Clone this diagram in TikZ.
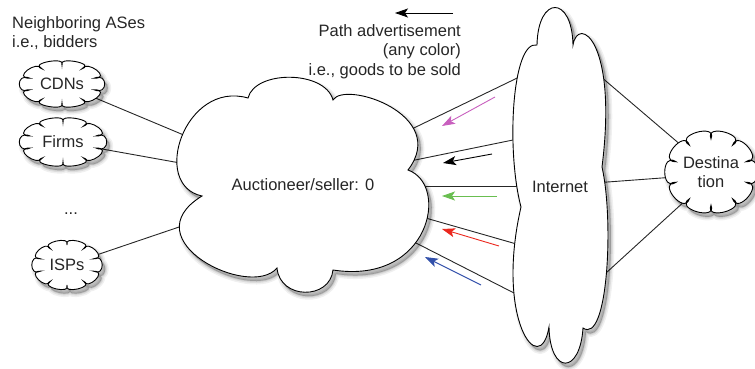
\documentclass[tikz,border=0pt]{standalone}
\usepackage{fontspec}
\setmainfont{Liberation Sans}
\usetikzlibrary{arrows.meta}
\definecolor{advpink}{RGB}{200,95,190}
\definecolor{advgreen}{RGB}{105,190,80}
\definecolor{advred}{RGB}{235,40,30}
\definecolor{advblue}{RGB}{50,80,170}
\newcommand{\aucshape}[1]{\path[#1] (202,196)
  .. controls (150,185) and (185,80) .. (248,98)
  .. controls (255,70) and (325,70) .. (333,100)
  .. controls (345,80) and (450,115) .. (408,170)
  .. controls (450,185) and (430,285) .. (333,270)
  .. controls (330,300) and (280,300) .. (277,268)
  .. controls (250,300) and (130,240) .. (202,196) -- cycle;}
\newcommand{\inetshape}[1]{\path[#1] (521,207)
  .. controls (506,150) and (512,40) .. (537,45)
  .. controls (538,-5) and (572,-5) .. (573,45)
  .. controls (578,15) and (618,40) .. (602,167)
  .. controls (614,220) and (608,345) .. (583,328)
  .. controls (580,375) and (550,375) .. (549,327)
  .. controls (540,380) and (495,320) .. (521,207) -- cycle;}
\newcommand{\puffshape}[1]{\path[#1] (-18:0.8)
  \foreach \a in {-18,18,...,306} { .. controls (\a-7:1.2) and (\a+43:1.2) .. (\a+36:0.8) } -- cycle;}
\newcommand{\shadowed}[1]{%
  #1{fill=black, draw=black, opacity=0.06, line width=7pt, line join=round, xshift=3pt, yshift=-4pt}%
  #1{fill=black, draw=black, opacity=0.08, line width=4pt, line join=round, xshift=3pt, yshift=-4pt}%
  #1{fill=black, draw=black, opacity=0.10, line width=1.5pt, line join=round, xshift=3pt, yshift=-4pt}%
  #1{fill=white, draw=black, line width=0.9pt}}
\newcommand{\smallcloud}[4]{\begin{scope}[shift={(#1,#2)}, x=#3pt, y=-#4pt]\shadowed{\puffshape}\end{scope}}
\begin{document}
\begin{tikzpicture}[x=1pt,y=-1pt,
  every node/.style={font=\fontsize{16.5}{19.5}\selectfont, text=black!85},
  link/.style={line width=0.9pt, draw=black!85},
  adv/.style={line width=0.9pt, -{Stealth[length=13pt,width=9pt,inset=3pt]}}
]
\useasboundingbox (0,0) rectangle (755,369);

% connector end points (inside the clouds, hidden by the cloud fill)
\coordinate (cdnc) at (62,84);
\coordinate (firmc) at (63,142);
\coordinate (ispc) at (67,265);
\coordinate (aucc) at (303,185);
\coordinate (a1) at (400,134.7); \coordinate (i1) at (535,69.4);
\coordinate (a2) at (400,163.1); \coordinate (i2) at (535,135.5);
\coordinate (a3) at (410,186);   \coordinate (i3) at (535,186);
\coordinate (a4) at (405,212.1); \coordinate (i4) at (535,249.3);
\coordinate (a5) at (395,232.3); \coordinate (i5) at (535,303.7);
\coordinate (o1) at (590,67.5);  \coordinate (d1) at (690,152.8);
\coordinate (o2) at (590,183.3); \coordinate (d2) at (690,175.9);
\coordinate (o3) at (590,287.6); \coordinate (d3) at (690,196.3);

% connectors (drawn first, clouds cover their ends)
\draw[link] (cdnc) -- (aucc);
\draw[link] (firmc) -- (aucc);
\draw[link] (ispc) -- (aucc);
\draw[link] (a1) -- (i1);
\draw[link] (a2) -- (i2);
\draw[link] (a3) -- (i3);
\draw[link] (a4) -- (i4);
\draw[link] (a5) -- (i5);
\draw[link] (o1) -- (d1);
\draw[link] (o2) -- (d2);
\draw[link] (o3) -- (d3);

% clouds
\smallcloud{62}{84}{42.5}{23.5}
\smallcloud{63}{142}{43.5}{24.5}
\smallcloud{67}{265}{35}{25}
\shadowed{\aucshape}
\shadowed{\inetshape}
\smallcloud{711}{172}{46}{41.5}

% texts
\node (cdn) at (cdnc) {CDNs};
\node (firm) at (firmc) {Firms};
\node (dots) at (71,214) {...};
\node (isp) at (ispc) {ISPs};
\node (auc) at (aucc) {Auctioneer/seller: 0};
\node (inet) at (560,187) {Internet};
\node[align=center] (dest) at (711,172) {Destina\\tion};
\node[anchor=north west, inner sep=0pt, align=left] (nbr) at (12,16) {Neighboring ASes\\i.e., bidders};
\node[anchor=north east, inner sep=0pt, align=right] (leg) at (461,24) {Path advertisement\\(any color)\\i.e., goods to be sold};

% legend arrow
\coordinate (legA) at (453,13);
\coordinate (legB) at (395,13);
\draw[adv] (legA) -- (legB);

% advertisements
\coordinate (p1) at (495,97);  \coordinate (q1) at (442,126);
\coordinate (p2) at (492,154); \coordinate (q2) at (443,163);
\coordinate (p3) at (497,196); \coordinate (q3) at (442,196);
\coordinate (p4) at (499,246); \coordinate (q4) at (442,229);
\coordinate (p5) at (481,285); \coordinate (q5) at (425,257);
\draw[adv, advpink] (p1) -- (q1);
\draw[adv, black] (p2) -- (q2);
\draw[adv, advgreen] (p3) -- (q3);
\draw[adv, advred] (p4) -- (q4);
\draw[adv, advblue] (p5) -- (q5);
\end{tikzpicture}
\end{document}
